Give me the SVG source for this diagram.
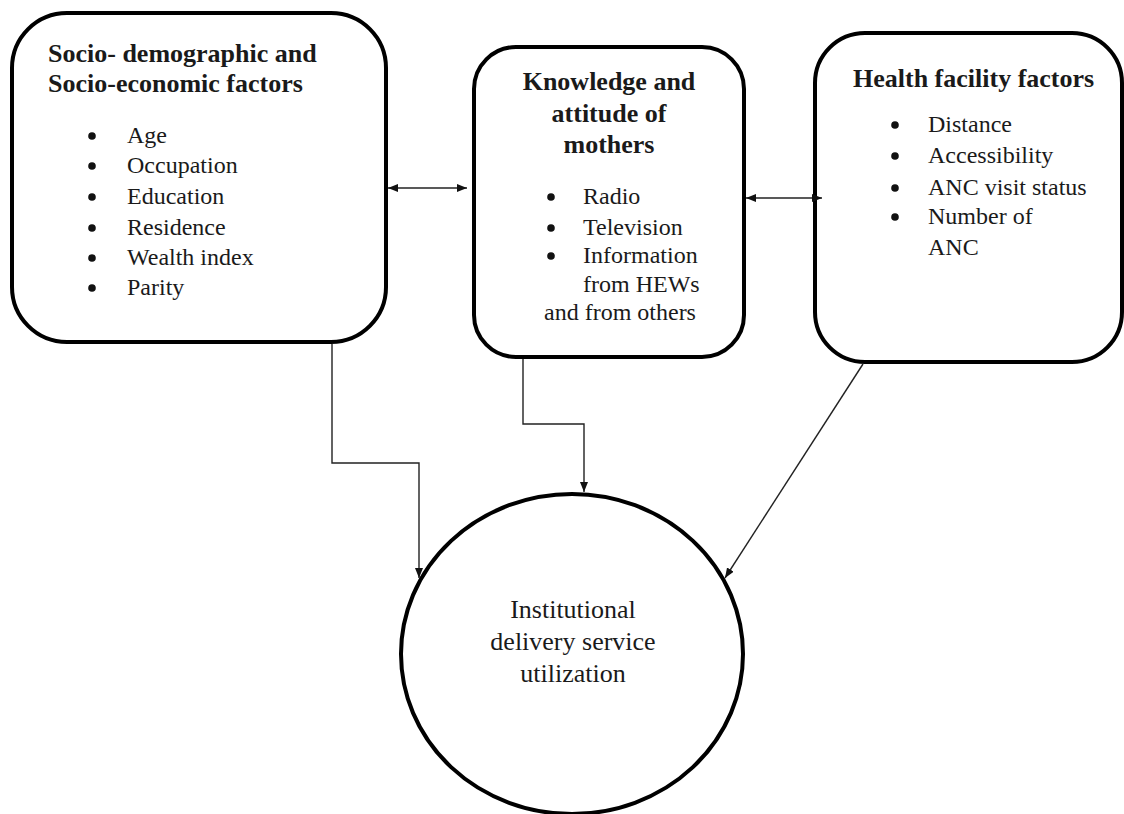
<svg xmlns="http://www.w3.org/2000/svg" width="1124" height="814" viewBox="0 0 1124 814">
<defs>
<marker id="ah" viewBox="0 0 10 8" refX="10" refY="4" markerWidth="10" markerHeight="8" markerUnits="userSpaceOnUse" orient="auto-start-reverse">
<path d="M0,0 L10,4 L0,8 Z" fill="#111"/>
</marker>
<style>
.box{fill:#fff;stroke:#000;stroke-width:4}
.t{font-family:"Liberation Serif","Times New Roman",serif;fill:#1a1a1a}
.h{font-size:26px;font-weight:bold}
.li{font-size:24px}
.c{font-size:26px}
.b{fill:#111}
.con{fill:none;stroke:#222;stroke-width:1.4}
</style>
</defs>
<rect width="1124" height="814" fill="#fff"/>
<g id="socio">
<rect class="box" x="12" y="13" width="374" height="329" rx="55" ry="55"/>
<text class="t h" x="48" y="62">Socio- demographic and</text>
<text class="t h" x="48" y="92">Socio-economic factors</text>
<g class="t li">
<text x="127" y="143">Age</text>
<text x="127" y="173">Occupation</text>
<text x="127" y="204">Education</text>
<text x="127" y="235">Residence</text>
<text x="127" y="265">Wealth index</text>
<text x="127" y="295">Parity</text>
</g>
<g class="b">
<circle cx="92" cy="136" r="3.8"/>
<circle cx="92" cy="166" r="3.8"/>
<circle cx="92" cy="197" r="3.8"/>
<circle cx="92" cy="228" r="3.8"/>
<circle cx="92" cy="258" r="3.8"/>
<circle cx="92" cy="288" r="3.8"/>
</g>
</g>
<g id="knowledge">
<rect class="box" x="474" y="47" width="270" height="310" rx="42" ry="42"/>
<text class="t h" x="609" y="90" text-anchor="middle">Knowledge and</text>
<text class="t h" x="609" y="122" text-anchor="middle">attitude of</text>
<text class="t h" x="609" y="153" text-anchor="middle">mothers</text>
<g class="t li">
<text x="583" y="204">Radio</text>
<text x="583" y="235">Television</text>
<text x="583" y="263">Information</text>
<text x="583" y="292">from HEWs</text>
<text x="544" y="320">and from others</text>
</g>
<g class="b">
<circle cx="551" cy="197" r="3.8"/>
<circle cx="551" cy="228" r="3.8"/>
<circle cx="551" cy="256" r="3.8"/>
</g>
</g>
<g id="health">
<rect class="box" x="815" y="33" width="307" height="329" rx="50" ry="50"/>
<text class="t h" x="853" y="87">Health facility factors</text>
<g class="t li">
<text x="928" y="132">Distance</text>
<text x="928" y="163">Accessibility</text>
<text x="928" y="195">ANC visit status</text>
<text x="928" y="224">Number of</text>
<text x="928" y="255">ANC</text>
</g>
<g class="b">
<circle cx="895" cy="125" r="3.8"/>
<circle cx="895" cy="156" r="3.8"/>
<circle cx="895" cy="188" r="3.8"/>
<circle cx="895" cy="217" r="3.8"/>
</g>
</g>
<g id="outcome">
<ellipse class="box" cx="572" cy="654" rx="171" ry="160"/>
<text class="t c" x="573" y="618" text-anchor="middle">Institutional</text>
<text class="t c" x="573" y="650" text-anchor="middle">delivery service</text>
<text class="t c" x="573" y="682" text-anchor="middle">utilization</text>
</g>
<g id="connectors">
<line class="con" x1="388" y1="188" x2="467" y2="188" marker-start="url(#ah)" marker-end="url(#ah)"/>
<line class="con" x1="746" y1="198" x2="822" y2="198" marker-start="url(#ah)" marker-end="url(#ah)"/>
<polyline class="con" points="332,344 332,463 419,463 419,578" marker-end="url(#ah)"/>
<polyline class="con" points="523,359 523,424 584,424 584,492" marker-end="url(#ah)"/>
<line class="con" x1="863" y1="364" x2="725" y2="578" stroke-width="1.1" marker-end="url(#ah)"/>
</g>
</svg>
